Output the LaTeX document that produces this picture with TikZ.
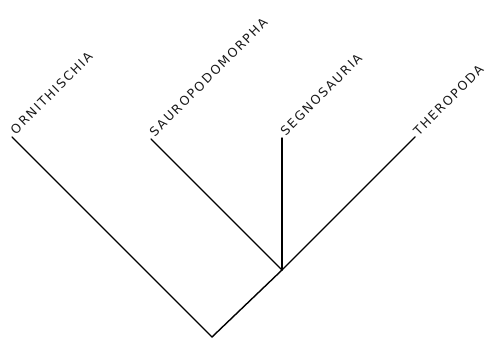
\documentclass[tikz,border=0pt]{standalone}
\usepackage{fontspec}
\setsansfont{DejaVu Sans}[LetterSpace=14]
\usetikzlibrary{positioning, calc}
\tikzset{
  branch/.style={line width=1.4pt, line cap=round},
  taxon/.style={font=\sffamily\fontsize{12.5}{13}\selectfont, rotate=45, anchor=south west, inner sep=1pt, text=black!90}
}
\begin{document}
\begin{tikzpicture}[x=1pt, y=1pt]
\useasboundingbox (0,0) rectangle (487,339);
% tree
\coordinate (root) at (212,2);
\coordinate (sau) at (282,69);
\coordinate (orn) at (12,202);
\coordinate (saur) at (151,200);
\coordinate (segn) at (282,201);
\coordinate (ther) at (415,202);
\draw[branch] (orn) -- (root) -- (sau);
\draw[branch] (saur) -- (sau) -- (ther);
\draw[branch] (sau) -- (segn);
% labels
\node[taxon] (ornl) at ($(orn)+(4,0)$) {ORNITHISCHIA};
\node[taxon] (saurl) at ($(saur)+(4,0)$) {SAUROPODOMORPHA};
\node[taxon] (segnl) at ($(segn)+(4,0)$) {SEGNOSAURIA};
\node[taxon] (therl) at ($(ther)+(4,-1)$) {THEROPODA};
\end{tikzpicture}
\end{document}
